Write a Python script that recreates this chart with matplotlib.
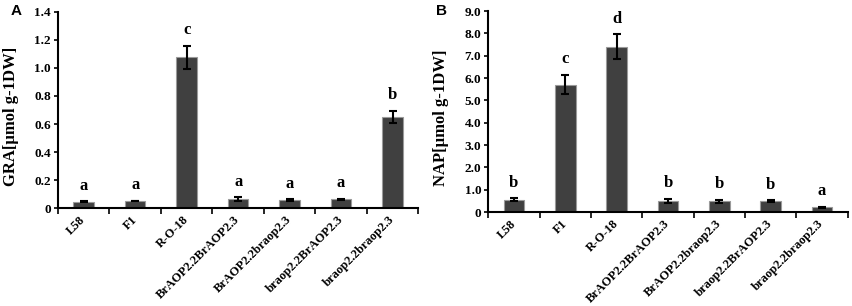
import numpy as np
import matplotlib
matplotlib.use("Agg")
import matplotlib.pyplot as plt
from matplotlib.transforms import ScaledTranslation

genotypes = ["L58", "F1", "R-O-18", "BrAOP2.2BrAOP2.3", "BrAOP2.2braop2.3",
             "braop2.2BrAOP2.3", "braop2.2braop2.3"]

gra_mean = [0.045, 0.05, 1.075, 0.065, 0.057, 0.063, 0.652]
gra_err = [0.003, 0.003, 0.085, 0.012, 0.008, 0.005, 0.043]
gra_letters = ["a", "a", "c", "a", "a", "a", "b"]

nap_mean = [0.55, 5.70, 7.40, 0.49, 0.49, 0.49, 0.22]
nap_err = [0.06, 0.43, 0.55, 0.10, 0.07, 0.04, 0.02]
nap_letters = ["b", "c", "d", "b", "b", "b", "a"]

gra_ticks = [0, 0.2, 0.4, 0.6, 0.8, 1.0, 1.2, 1.4]
gra_ticklabels = ["0", "0.2", "0.4", "0.6", "0.8", "1.0", "1.2", "1.4"]
nap_ticks = [0, 1, 2, 3, 4, 5, 6, 7, 8, 9]
nap_ticklabels = ["0", "1.0", "2.0", "3.0", "4.0", "5.0", "6.0", "7.0", "8.0", "9.0"]

SERIF = "Liberation Serif"


def draw_panel(fig, ax, means, errs, letters, ticks, ticklabels, ylabel):
    x = np.arange(len(genotypes))
    ax.bar(x, means, width=0.4, color="#404040", edgecolor="#9a9a9a", linewidth=0.8,
           yerr=errs, error_kw=dict(ecolor="black", elinewidth=1.5, capsize=3, capthick=1.5),
           zorder=2)
    ymax = ticks[-1]
    pad = 0.058 * ymax
    for xi, m, e, l in zip(x, means, errs, letters):
        ax.text(xi, m + e + pad, l, ha="center", va="baseline", family=SERIF,
                fontweight="bold", fontsize=12)
    ax.set_xlim(-0.5, len(genotypes) - 0.5)
    ax.set_ylim(0, ymax)
    ax.set_yticks(ticks)
    ax.set_yticklabels(ticklabels, family=SERIF, fontweight="bold", fontsize=9.5)
    ax.set_xticks(x)
    ax.set_xticklabels(genotypes, rotation=45, ha="right", va="center",
                       rotation_mode="anchor", family=SERIF, fontweight="bold", fontsize=9.0)
    shift = ScaledTranslation(5 / 72, 0, fig.dpi_scale_trans)
    for lab in ax.get_xticklabels():
        lab.set_transform(lab.get_transform() + shift)
    ax.set_xticks(np.arange(len(genotypes) + 1) - 0.5, minor=True)
    ax.tick_params(axis="x", which="major", length=0, pad=7)
    ax.tick_params(axis="x", which="minor", length=4, width=1.2, direction="out")
    ax.tick_params(axis="y", length=3, width=1.2, direction="out", pad=2)
    ax.set_ylabel(ylabel, family=SERIF, fontweight="bold", fontsize=12)
    ax.yaxis.set_label_coords(-0.108, 0.47)
    for s in ["top", "right"]:
        ax.spines[s].set_visible(False)
    for s in ["left", "bottom"]:
        ax.spines[s].set_linewidth(1.5)


fig = plt.figure(figsize=(8.52, 3.06), dpi=100)
ax1 = fig.add_axes([0.068, 0.320, 0.423, 0.641])
ax2 = fig.add_axes([0.573, 0.307, 0.422, 0.657])

draw_panel(fig, ax1, gra_mean, gra_err, gra_letters, gra_ticks, gra_ticklabels, "GRA[µmol g-1DW]")
draw_panel(fig, ax2, nap_mean, nap_err, nap_letters, nap_ticks, nap_ticklabels, "NAP[µmol g-1DW]")

fig.text(0.012, 0.965, "A", family="Liberation Sans", fontweight="bold", fontsize=11, va="center")
fig.text(0.512, 0.965, "B", family="Liberation Sans", fontweight="bold", fontsize=11, va="center")

fig.savefig("out.png", dpi=100)
